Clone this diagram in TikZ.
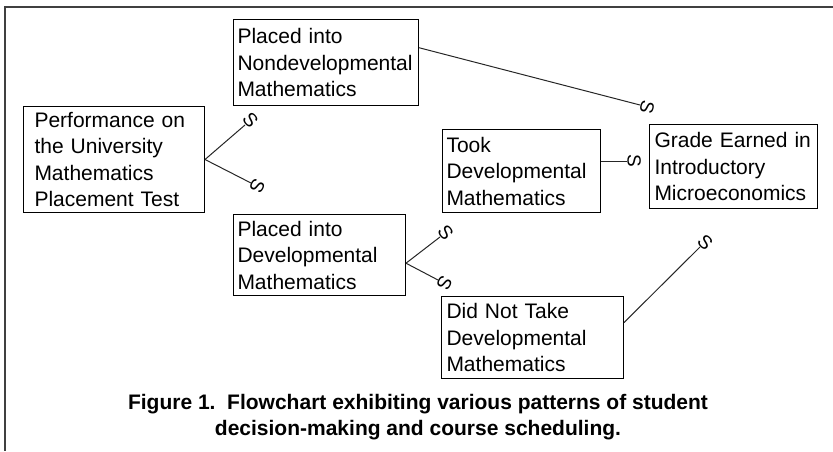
\documentclass[tikz,border=0pt]{standalone}
\usepackage{fontspec}
\setsansfont{Liberation Sans}
\usetikzlibrary{positioning, calc}
\tikzset{
    font=\sffamily,
    % Lines
    frameLine/.style={draw=black!75, line width=1.3pt},
    link/.style={draw=black!85, line width=1pt},
    % Boxes
    stage/.style={rectangle, draw=black, line width=1pt, anchor=north west, align=left,
                  inner xsep=4pt, inner ysep=0pt, font=\sffamily\fontsize{21}{26.5}\selectfont},
    % Tips & caption
    sTip/.style={sloped, pos=1, anchor=south, rotate=-90, inner sep=0pt,
                 font=\sffamily\fontsize{19}{19}\selectfont},
    figCaption/.style={align=center, font=\sffamily\bfseries\fontsize{21}{26}\selectfont}
}

\begin{document}
\begin{tikzpicture}[x=1pt, y=-1pt]
\useasboundingbox (0,0) rectangle (833,451);
\draw[frameLine] (833,7) -| (5,451);

\node[stage, inner xsep=11pt, text width=159pt, minimum height=106pt] (perf) at (23,106)
    {Performance on\\the University\\Mathematics\\Placement Test};
\node[stage, text width=177pt, minimum height=86pt] (nondev) at (233,19)
    {Placed into\\Nondevelopmental\\Mathematics};
\node[stage, text width=164pt, minimum height=81pt] (dev) at (233,214)
    {Placed into\\Developmental\\Mathematics};
\node[stage, text width=150pt, minimum height=83pt] (took) at (442,129)
    {Took\\Developmental\\Mathematics};
\node[stage, inner xsep=5pt, text width=158pt, minimum height=84pt] (grade) at (649,124)
    {Grade Earned in\\Introductory\\Microeconomics};
\node[stage, inner xsep=5pt, text width=172pt, minimum height=82pt] (notook) at (441,296)
    {Did Not Take\\Developmental\\Mathematics};

\coordinate (tipA) at (245,125);
\coordinate (tipB) at (251,183);
\coordinate (tipC) at (440,237);
\coordinate (tipD) at (438,280);
\coordinate (tipE) at (627,161);
\coordinate (tipF) at (640,105);
\coordinate (tipG) at (700,247);

\draw[link] (perf.east) -- (tipA) node[sTip] {S};
\draw[link] (perf.east) -- (tipB) node[sTip] {S};
\draw[link] ($(dev.north east)!0.6!(dev.south east)$) -- (tipC) node[sTip] {S};
\draw[link] ($(dev.north east)!0.6!(dev.south east)$) -- (tipD) node[sTip] {S};
\draw[link] (took.east |- tipE) -- (tipE) node[sTip] {S};
\draw[link] ($(nondev.north east)!0.33!(nondev.south east)$) -- (tipF) node[sTip] {S};
\draw[link] ($(notook.north east)!0.32!(notook.south east)$) -- (tipG) node[sTip] {S};

\node[figCaption] (cap) at (418,417)
    {Figure 1.\ \ Flowchart exhibiting various patterns of student\\decision-making and course scheduling.};

\end{tikzpicture}
\end{document}
